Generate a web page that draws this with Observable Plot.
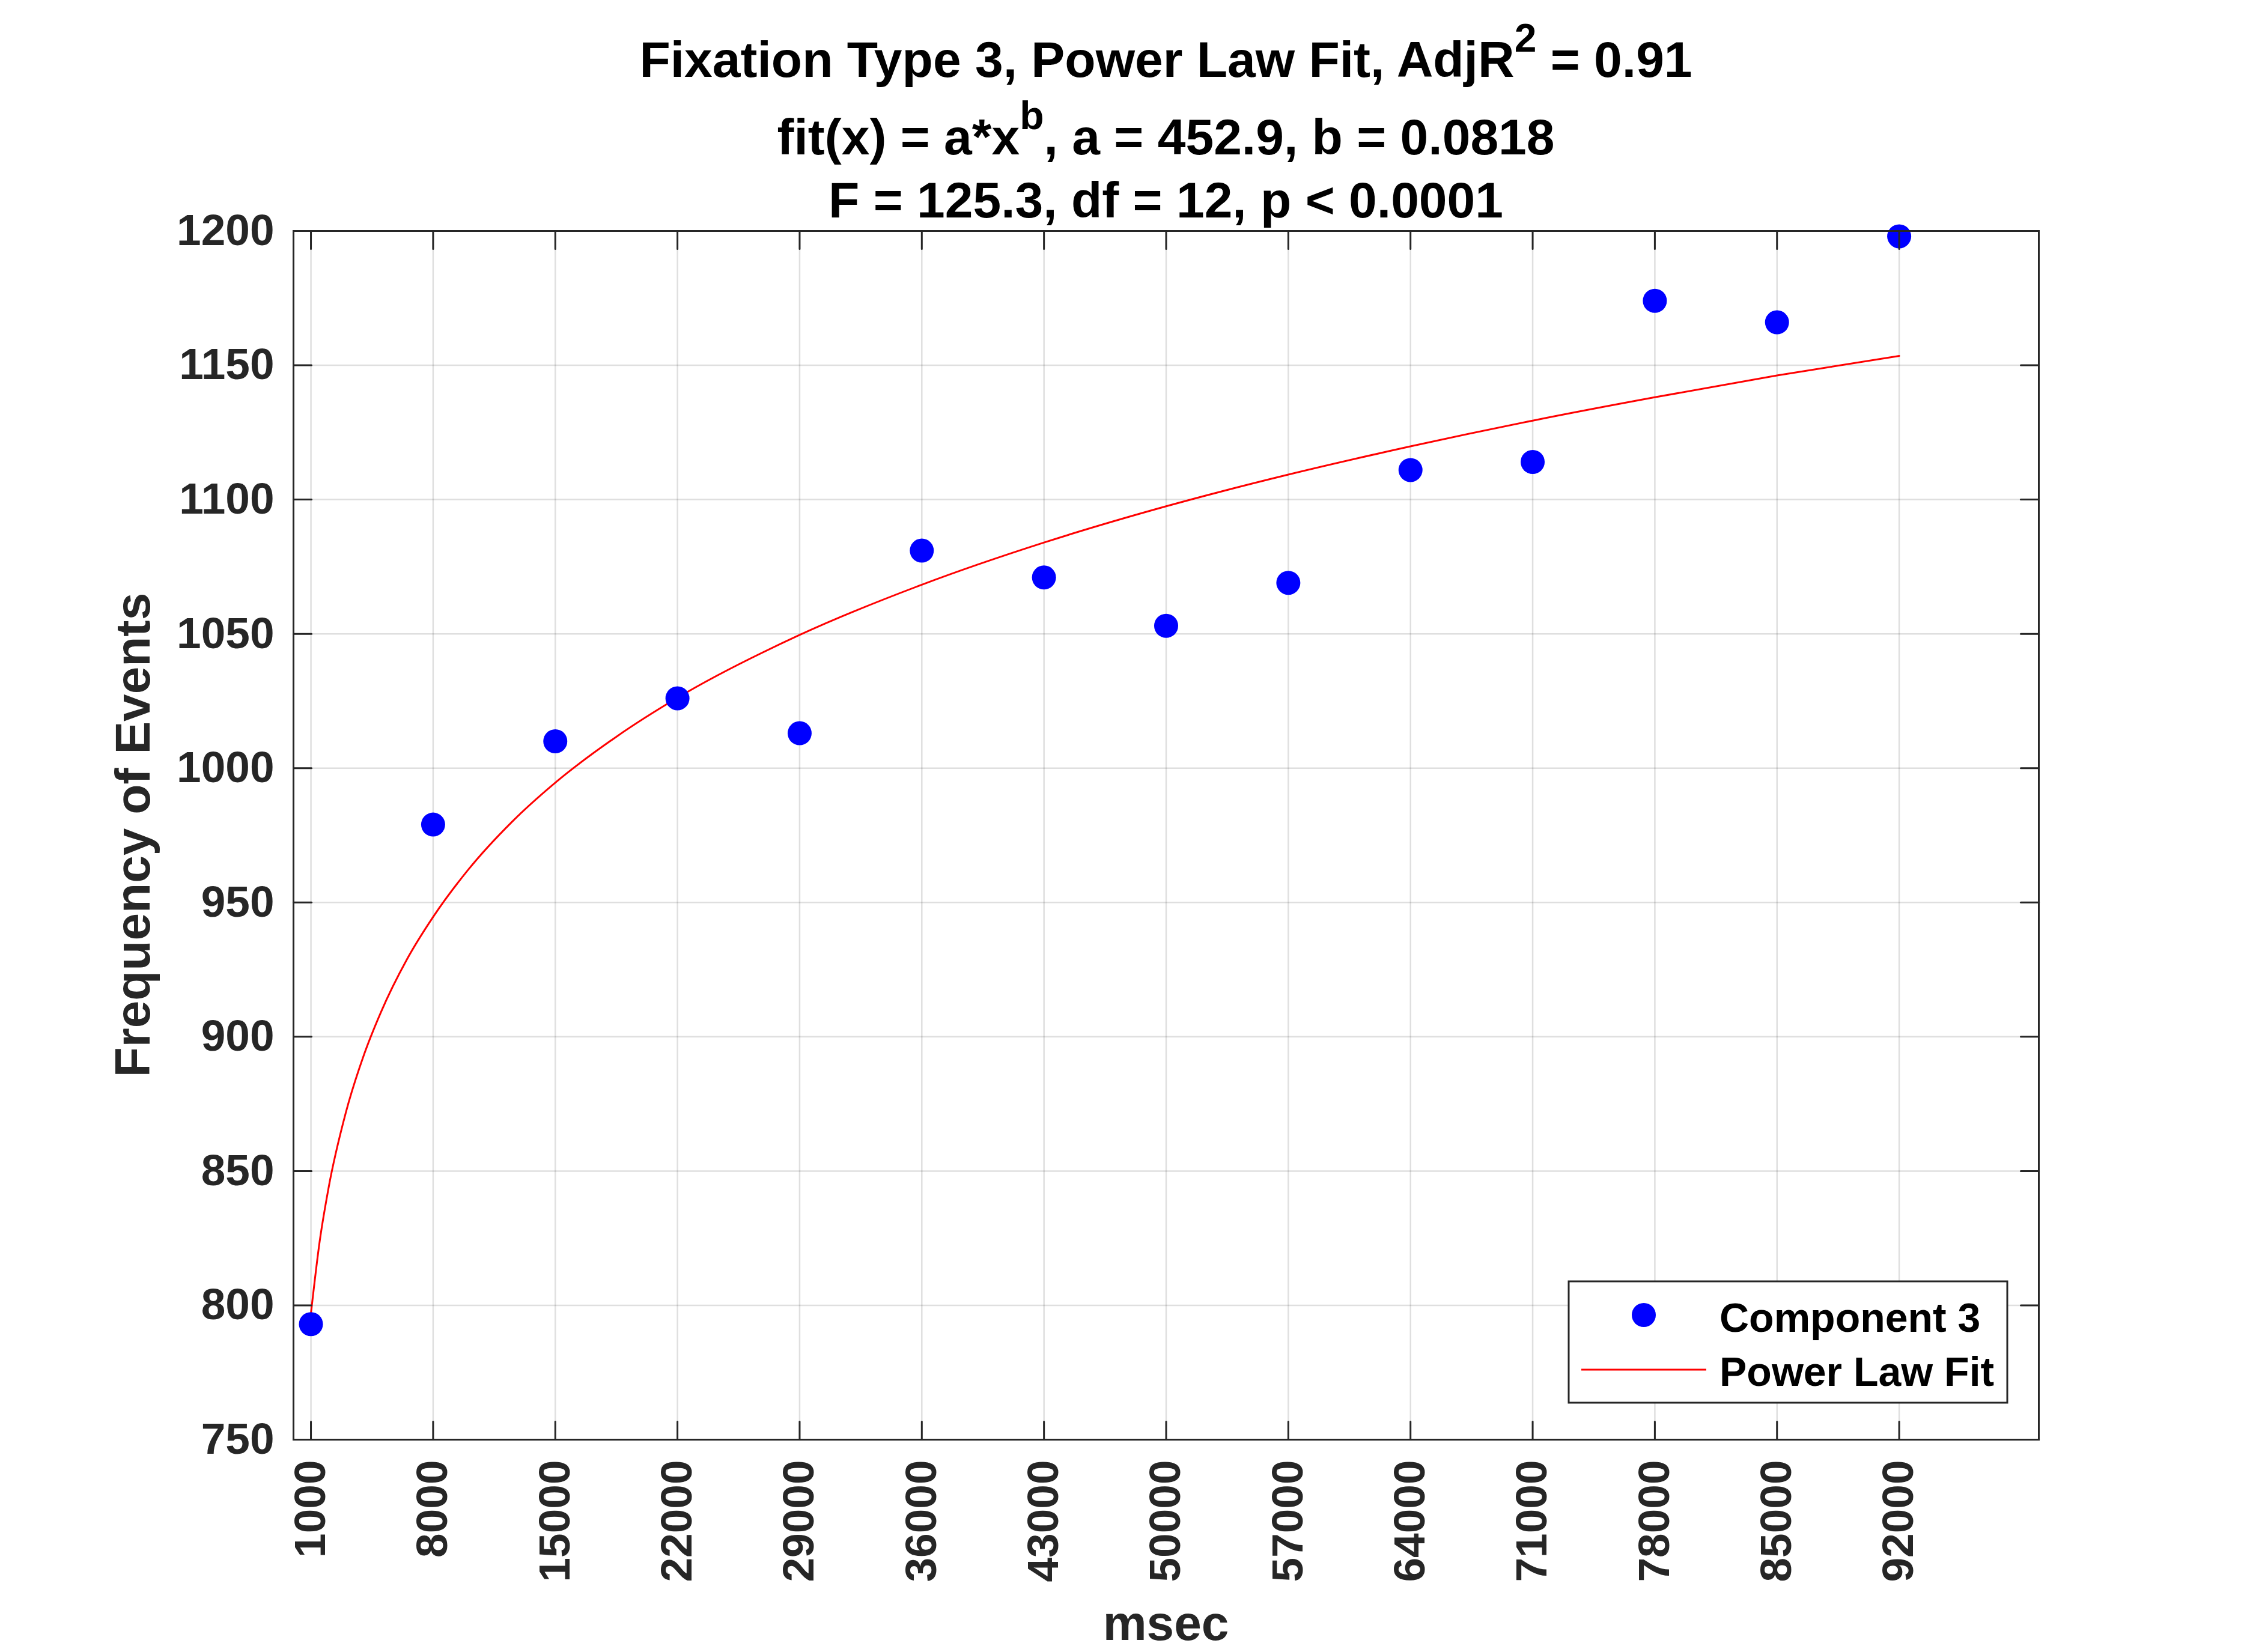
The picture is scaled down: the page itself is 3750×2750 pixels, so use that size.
<!DOCTYPE html>
<html>
<head>
<meta charset="utf-8">
<script src="https://cdn.jsdelivr.net/npm/d3@7"></script>
<script src="https://cdn.jsdelivr.net/npm/@observablehq/plot@0.6"></script>
<style>
  html, body { margin: 0; padding: 0; background: #fff; }
  svg { display: block; }
</style>
</head>
<body>
<div id="chart"></div>
<script>
// ---- data ----
const msec = [1000, 8000, 15000, 22000, 29000, 36000, 43000, 50000, 57000, 64000, 71000, 78000, 85000, 92000];
const frequency = [793, 979, 1010, 1026, 1013, 1081, 1071, 1053, 1069, 1111, 1114, 1174, 1166, 1198];

// red fit curve
const fitMsec = [1000, 1500, 2000, 3000, 4000, 5000, 6500, 8000, 10000, 12500, 15000, 18500, 22000, 29000, 36000, 43000, 50000, 57000, 64000, 71000, 78000, 85000, 92000];
const fitFrequency = [797.0, 823.8, 843.4, 871.8, 892.6, 909.0, 928.8, 944.6, 962.1, 979.9, 994.6, 1011.7, 1026.2, 1049.6, 1068.3, 1084.0, 1097.5, 1109.3, 1119.8, 1129.4, 1138.1, 1146.2, 1153.5];

const xTicks = [1000, 8000, 15000, 22000, 29000, 36000, 43000, 50000, 57000, 64000, 71000, 78000, 85000, 92000];
const yTicks = [750, 800, 850, 900, 950, 1000, 1050, 1100, 1150, 1200];
const xDomain = [0, 100000];
const yDomain = [750, 1200];

const titleLine1 = ["Fixation Type 3, Power Law Fit, AdjR", "2", " = 0.91"];
const titleLine2 = ["fit(x) = a*x", "b", ", a = 452.9, b = 0.0818"];
const titleLine3 = "F = 125.3, df = 12, p < 0.0001";
const xLabel = "msec";
const yLabel = "Frequency of Events";
const legendLabels = ["Component 3", "Power Law Fit"];

// ---- build tables ----
const points = msec.map((m, i) => ({msec: m, freq: frequency[i]}));
const fit = fitMsec.map((m, i) => ({msec: m, freq: fitFrequency[i]}));

const W = 3750, H = 2750;
const mL = 488, mR = 357, mT = 384, mB = 354;
const FONT = "'Liberation Sans', Arial, Helvetica, sans-serif";
const AXC = "#262626";
const tickShape = {draw(context, l) { context.moveTo(0, 0); context.lineTo(0, -l); }};
const tickLen = 30;

const chart = Plot.plot({
  width: W,
  height: H,
  marginLeft: mL, marginRight: mR, marginTop: mT, marginBottom: mB,
  style: {background: "#fff", fontFamily: FONT, color: AXC},
  x: {domain: xDomain, label: null},
  y: {domain: yDomain, label: null},
  marks: [
    Plot.gridX(xTicks, {stroke: AXC, strokeOpacity: 0.15, strokeWidth: 2.5}),
    Plot.gridY(yTicks, {stroke: AXC, strokeOpacity: 0.15, strokeWidth: 2.5}),
    Plot.line(fit, {x: "msec", y: "freq", stroke: "#ff0000", strokeWidth: 3, curve: "monotone-x"}),
    Plot.dot(points, {x: "msec", y: "freq", r: 20, fill: "#0000ff", stroke: "none"}),
    Plot.frame({stroke: AXC, strokeWidth: 3}),
    // inner ticks on all four sides
    Plot.vector(xTicks, {x: d => d, frameAnchor: "bottom", length: tickLen, rotate: 0, anchor: "start", shape: tickShape, stroke: AXC, strokeWidth: 3}),
    Plot.vector(xTicks, {x: d => d, frameAnchor: "top", length: tickLen, rotate: 180, anchor: "start", shape: tickShape, stroke: AXC, strokeWidth: 3}),
    Plot.vector(yTicks, {y: d => d, frameAnchor: "left", length: tickLen, rotate: 90, anchor: "start", shape: tickShape, stroke: AXC, strokeWidth: 3}),
    Plot.vector(yTicks, {y: d => d, frameAnchor: "right", length: tickLen, rotate: -90, anchor: "start", shape: tickShape, stroke: AXC, strokeWidth: 3}),
    Plot.axisX(xTicks, {tickSize: 0, tickPadding: 34, tickRotate: -90, fontSize: 73, fontWeight: "bold", fill: AXC, label: null, tickFormat: d => String(d)}),
    Plot.axisY(yTicks, {tickSize: 0, tickPadding: 32, fontSize: 73, fontWeight: "bold", fill: AXC, label: null, tickFormat: d => String(d)})
  ]
});

document.getElementById("chart").appendChild(chart);

const svg = d3.select(chart);
const cx = (mL + (W - mR)) / 2;

// titles
function titleWithSup(parts, baseline) {
  const t = svg.append("text")
    .attr("x", cx).attr("y", baseline)
    .attr("text-anchor", "middle")
    .attr("font-family", FONT).attr("font-weight", "bold")
    .attr("font-size", 84).attr("fill", "#000");
  t.append("tspan").text(parts[0]);
  t.append("tspan").attr("font-size", 66).attr("dy", -42).text(parts[1]);
  t.append("tspan").attr("dy", 42).text(parts[2]);
}
titleWithSup(titleLine1, 128);
titleWithSup(titleLine2, 257);
svg.append("text")
  .attr("x", cx).attr("y", 362)
  .attr("text-anchor", "middle")
  .attr("font-family", FONT).attr("font-weight", "bold")
  .attr("font-size", 84).attr("fill", "#000")
  .text(titleLine3);

// axis labels
svg.append("text")
  .attr("x", cx).attr("y", 2730)
  .attr("text-anchor", "middle")
  .attr("font-family", FONT).attr("font-weight", "bold")
  .attr("font-size", 82).attr("fill", AXC)
  .text(xLabel);
svg.append("text")
  .attr("transform", `translate(249,${(mT + (H - mB)) / 2}) rotate(-90)`)
  .attr("text-anchor", "middle")
  .attr("font-family", FONT).attr("font-weight", "bold")
  .attr("font-size", 82).attr("fill", AXC)
  .text(yLabel);

// legend
const lg = svg.append("g");
lg.append("rect")
  .attr("x", 2611).attr("y", 2133).attr("width", 730).attr("height", 202)
  .attr("fill", "#fff").attr("stroke", AXC).attr("stroke-width", 3);
lg.append("circle").attr("cx", 2736).attr("cy", 2189).attr("r", 20).attr("fill", "#0000ff");
lg.append("line").attr("x1", 2632).attr("x2", 2840).attr("y1", 2280).attr("y2", 2280)
  .attr("stroke", "#ff0000").attr("stroke-width", 3);
lg.append("text").attr("x", 2862).attr("y", 2217)
  .attr("text-anchor", "start")
  .attr("font-family", FONT).attr("font-weight", "bold").attr("font-size", 68).attr("fill", "#000")
  .text(legendLabels[0]);
lg.append("text").attr("x", 2862).attr("y", 2307)
  .attr("text-anchor", "start")
  .attr("font-family", FONT).attr("font-weight", "bold").attr("font-size", 68).attr("fill", "#000")
  .text(legendLabels[1]);
</script>
</body>
</html>
